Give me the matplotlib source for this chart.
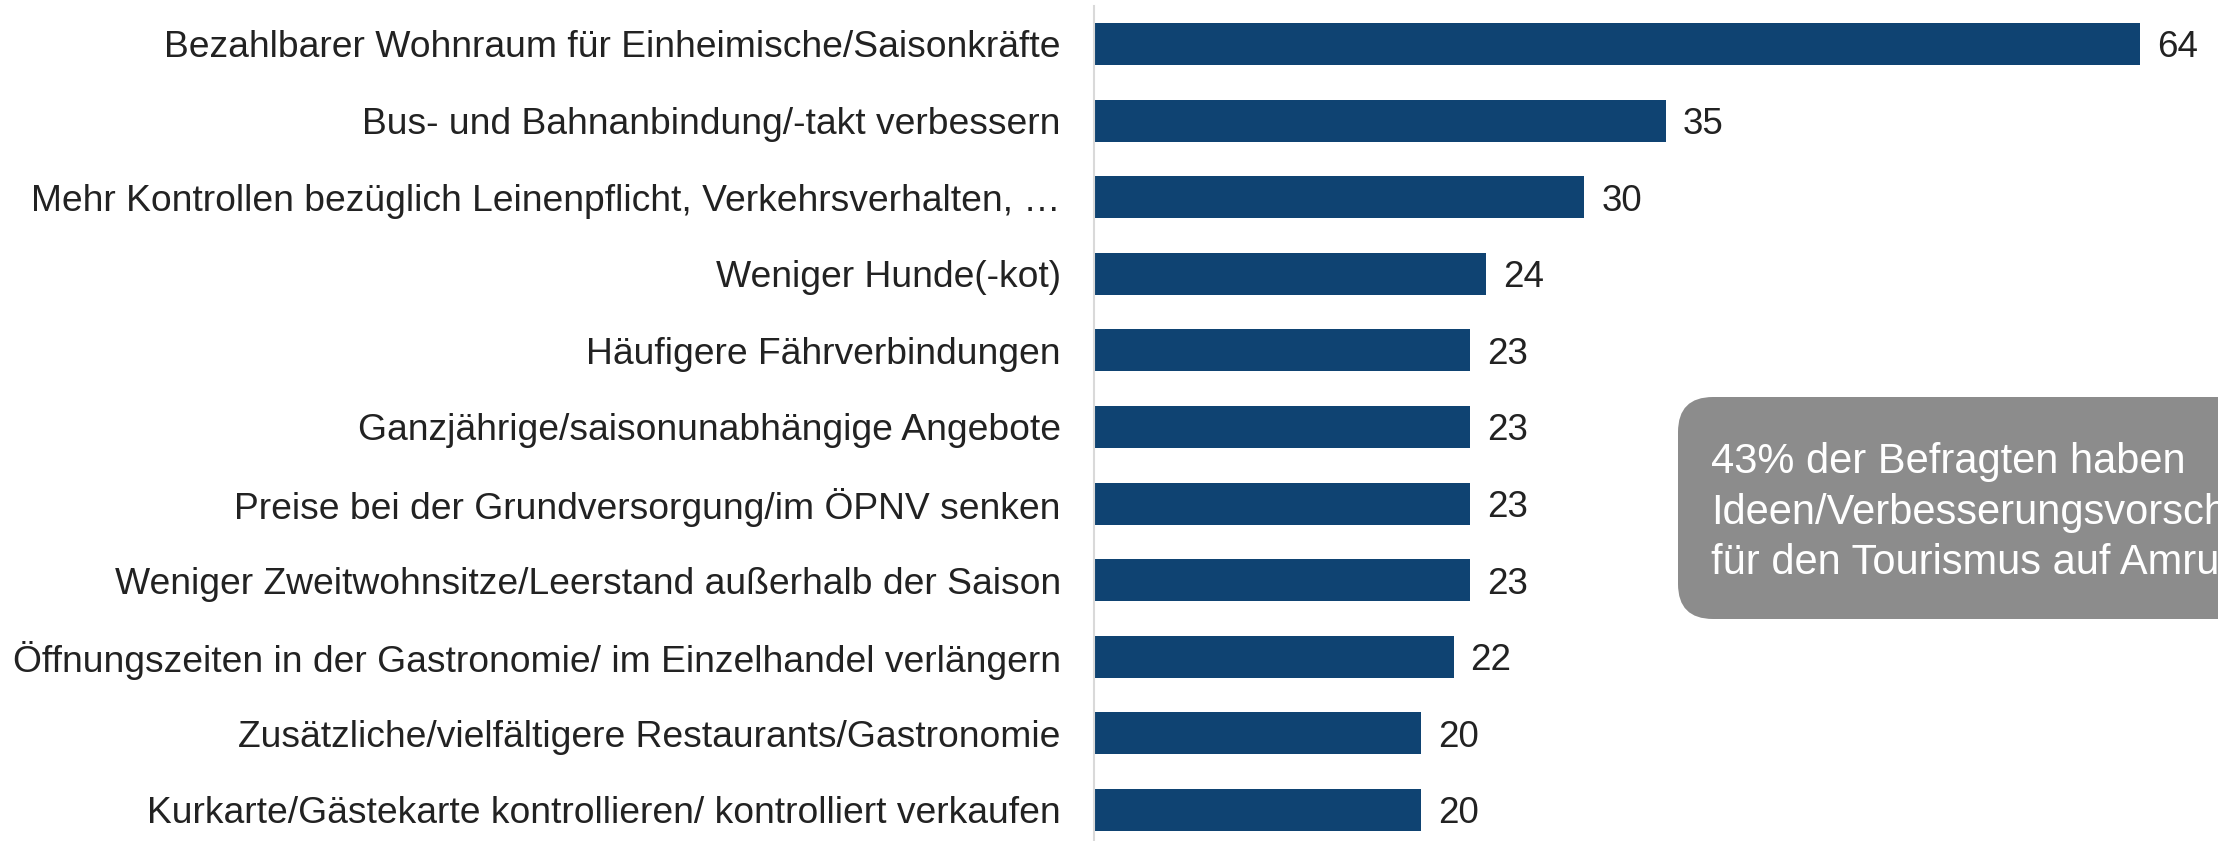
import matplotlib
matplotlib.use("Agg")
import matplotlib.pyplot as plt
from matplotlib.patches import FancyBboxPatch

plt.rcParams['font.family'] = ['Liberation Sans', 'DejaVu Sans']

# Daten
categories = [
    "Bezahlbarer Wohnraum für Einheimische/Saisonkräfte",
    "Bus- und Bahnanbindung/-takt verbessern",
    "Mehr Kontrollen bezüglich Leinenpflicht, Verkehrsverhalten, …",
    "Weniger Hunde(-kot)",
    "Häufigere Fährverbindungen",
    "Ganzjährige/saisonunabhängige Angebote",
    "Preise bei der Grundversorgung/im ÖPNV senken",
    "Weniger Zweitwohnsitze/Leerstand außerhalb der Saison",
    "Öffnungszeiten in der Gastronomie/ im Einzelhandel verlängern",
    "Zusätzliche/vielfältigere Restaurants/Gastronomie",
    "Kurkarte/Gästekarte kontrollieren/ kontrolliert verkaufen",
]
values = [64, 35, 30, 24, 23, 23, 23, 23, 22, 20, 20]
note_lines = [
    "43% der Befragten haben",
    "Ideen/Verbesserungsvorschläge",
    "für den Tourismus auf Amrum",
]

BAR_COLOR = '#0f4372'
TEXT_COLOR = '#222222'

fig = plt.figure(figsize=(22.18, 8.41), dpi=100)
ax = fig.add_axes([1094 / 2218, 0, (2218 - 1094) / 2218, 1])

pos = list(range(len(categories)))
bars = ax.barh(pos, values, height=0.55, color=BAR_COLOR)
value_texts = ax.bar_label(bars, labels=[str(v) for v in values], padding=12,
                           fontsize=26.5, color=TEXT_COLOR)
for t in value_texts:
    t.set_verticalalignment('center_baseline')

ax.set_xlim(0, 68.75)
ax.set_ylim(10.405, -0.574)
ax.set_yticks(pos)
ax.set_yticklabels(categories, fontsize=26.8, color=TEXT_COLOR)
ax.tick_params(axis='y', length=0, pad=24)
ax.set_xticks([])

for side in ['top', 'right', 'bottom']:
    ax.spines[side].set_visible(False)
ax.spines['left'].set_color('#d9d9d9')
ax.spines['left'].set_linewidth(1.5)
ax.spines['left'].set_bounds(-0.5, 10.405)

# Hinweisbox rechts (im Original am rechten Rand abgeschnitten)
box = FancyBboxPatch((16.78, 2.22), 6.0, 2.22,
                     boxstyle="round,pad=0,rounding_size=0.35",
                     transform=fig.dpi_scale_trans,
                     facecolor='#8c8c8c', edgecolor='none')
fig.patches.append(box)
for i, line in enumerate(note_lines):
    fig.text(17.11, 3.68 - 0.506 * i, line, transform=fig.dpi_scale_trans,
             fontsize=30, color='white', va='baseline', ha='left')

fig.savefig('out.png', dpi=100)
